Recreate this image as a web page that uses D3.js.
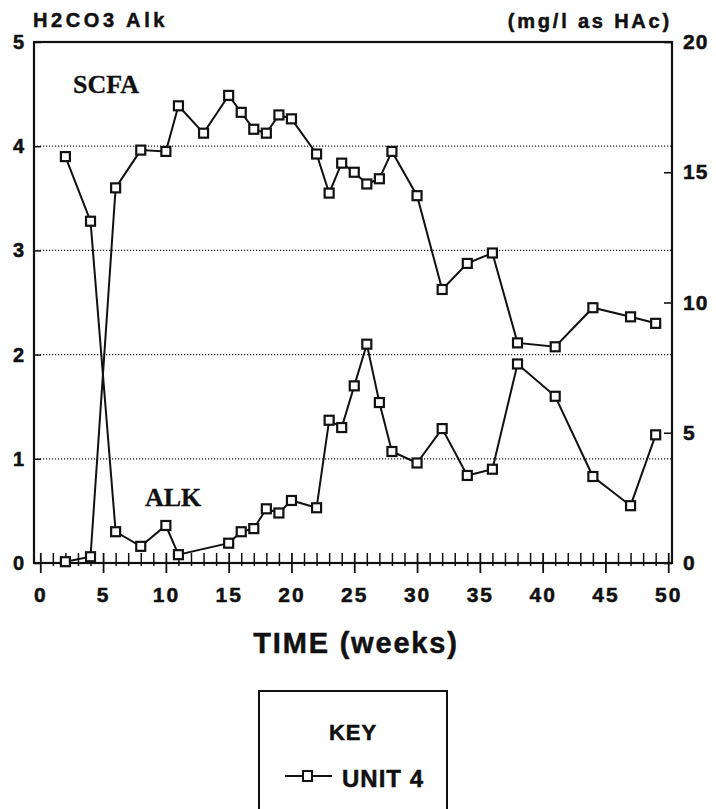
<!DOCTYPE html>
<html>
<head>
<meta charset="utf-8">
<script src="https://cdn.jsdelivr.net/npm/d3@7"></script>
<style>
  html, body { margin: 0; padding: 0; background: #fff; }
  svg { display: block; }
  text { font-family: "Liberation Sans", Arial, sans-serif; font-weight: bold; fill: #111; stroke: #111; stroke-width: 0.5px; }
  .serif { font-family: "Liberation Serif", "Times New Roman", serif; stroke-width: 0.3px; }
</style>
</head>
<body>
<svg id="chart" width="716" height="809"></svg>
<script>
// Weekly samples, UNIT 4
const weeksAlk = [2,4,6,8,10,11,15,16,17,18,19,20,22,23,24,25,26,27,28,30,32,34,36,38,41,44,47,49];
const alk = [3.90,3.28,0.30,0.16,0.36,0.08,0.19,0.30,0.33,0.52,0.48,0.60,0.53,1.37,1.30,1.70,2.10,1.54,1.07,0.96,1.29,0.84,0.90,1.91,1.60,0.83,0.55,1.23];

const weeksScfa = [2,4,6,8,10,11,13,15,16,17,18,19,20,22,23,24,25,26,27,28,30,32,34,36,38,41,44,47,49];
const scfa = [0.05,0.24,14.4,15.85,15.8,17.55,16.5,17.95,17.3,16.65,16.5,17.2,17.05,15.7,14.2,15.35,15.0,14.55,14.75,15.8,14.1,10.5,11.5,11.9,8.45,8.3,9.8,9.45,9.2];

const xTicks = [0,5,10,15,20,25,30,35,40,45,50];
const leftTicks = [0,1,2,3,4,5];
const rightTicks = [0,5,10,15,20];
const gridValues = [1,2,3,4];

const svg = d3.select("#chart");
const L = 34, R = 672, T = 42, B = 563;

const x = d3.scaleLinear().domain([-0.5, 50.3]).range([L, R]);
const yL = d3.scaleLinear().domain([0, 5]).range([B, T]);
const yR = d3.scaleLinear().domain([0, 20]).range([B, T]);

// dotted grid on left-axis values
svg.append("g").selectAll("line").data(gridValues).join("line")
  .attr("x1", L).attr("x2", R)
  .attr("y1", d => yL(d)).attr("y2", d => yL(d))
  .attr("stroke", "#222").attr("stroke-width", 1.2)
  .attr("stroke-dasharray", "1.2,1.8");

// frame
svg.append("rect").attr("x", L).attr("y", T).attr("width", R - L).attr("height", B - T)
  .attr("fill", "none").attr("stroke", "#111").attr("stroke-width", 2.2);

function styleLabels(g, size, spacing) {
  g.attr("font-family", null).attr("font-size", null);
  g.selectAll("text")
    .style("font-size", size + "px")
    .style("letter-spacing", spacing + "px")
    .attr("fill", "#111");
}

// left axis
const gl = svg.append("g").attr("transform", `translate(${L},0)`)
  .call(d3.axisLeft(yL).tickValues(leftTicks).tickFormat(d3.format("d")).tickSizeInner(-7).tickSizeOuter(0).tickPadding(10));
gl.select(".domain").remove();
gl.selectAll("line").attr("stroke", "#111").attr("stroke-width", 1.5);
styleLabels(gl, 20, 0);

// right axis
const gr = svg.append("g").attr("transform", `translate(${R},0)`)
  .call(d3.axisRight(yR).tickValues(rightTicks).tickFormat(d3.format("d")).tickSizeInner(-8).tickSizeOuter(0).tickPadding(11));
gr.select(".domain").remove();
gr.selectAll("line").attr("stroke", "#111").attr("stroke-width", 1.6);
styleLabels(gr, 21, 1);

// minor week ticks
const minorWeeks = d3.range(1, 50).filter(w => w % 5 !== 0);
const gm = svg.append("g").attr("transform", `translate(0,${B - 10})`)
  .call(d3.axisBottom(x).tickValues(minorWeeks).tickFormat("").tickSizeInner(13).tickSizeOuter(0));
gm.select(".domain").remove();
gm.selectAll("line").attr("stroke", "#111").attr("stroke-width", 1.5);

// major ticks with labels
const gx = svg.append("g").attr("transform", `translate(0,${B - 10})`)
  .call(d3.axisBottom(x).tickValues(xTicks).tickFormat(d3.format("d")).tickSizeInner(20).tickSizeOuter(0).tickPadding(14));
gx.select(".domain").remove();
gx.selectAll("line").attr("stroke", "#111").attr("stroke-width", 1.8);
styleLabels(gx, 21, 2);

// series lines
const lineAlk = d3.line().x((d, i) => x(weeksAlk[i])).y(d => yL(d));
const lineScfa = d3.line().x((d, i) => x(weeksScfa[i])).y(d => yR(d));

svg.append("path").datum(alk).attr("d", lineAlk)
  .attr("fill", "none").attr("stroke", "#111").attr("stroke-width", 2);
svg.append("path").datum(scfa).attr("d", lineScfa)
  .attr("fill", "none").attr("stroke", "#111").attr("stroke-width", 2);

// square markers
const S = 9;
svg.append("g").selectAll("rect").data(alk).join("rect")
  .attr("x", (d, i) => x(weeksAlk[i]) - S / 2).attr("y", d => yL(d) - S / 2)
  .attr("width", S).attr("height", S)
  .attr("fill", "#fff").attr("stroke", "#111").attr("stroke-width", 2.2);
svg.append("g").selectAll("rect").data(scfa).join("rect")
  .attr("x", (d, i) => x(weeksScfa[i]) - S / 2).attr("y", d => yR(d) - S / 2)
  .attr("width", S).attr("height", S)
  .attr("fill", "#fff").attr("stroke", "#111").attr("stroke-width", 2.2);

// axis titles
svg.append("text").attr("x", 33).attr("y", 27)
  .style("font-size", "20px").style("letter-spacing", "3.6px").text("H2CO3 Alk");
svg.append("text").attr("x", 672).attr("y", 28).attr("text-anchor", "end")
  .style("font-size", "20px").style("letter-spacing", "2.8px").text("(mg/l as HAc)");

// series labels
svg.append("text").attr("class", "serif").attr("x", 73).attr("y", 93)
  .style("font-size", "26px").text("SCFA");
svg.append("text").attr("class", "serif").attr("x", 145).attr("y", 506)
  .style("font-size", "26px").text("ALK");

// x title
svg.append("text").attr("x", 356).attr("y", 653).attr("text-anchor", "middle")
  .style("font-size", "29px").style("letter-spacing", "1.8px").text("TIME (weeks)");

// key
svg.append("rect").attr("x", 259).attr("y", 691).attr("width", 188).attr("height", 125)
  .attr("fill", "none").attr("stroke", "#111").attr("stroke-width", 2);
svg.append("text").attr("x", 353).attr("y", 740).attr("text-anchor", "middle")
  .style("font-size", "22px").style("letter-spacing", "1px").text("KEY");
svg.append("line").attr("x1", 285).attr("x2", 332).attr("y1", 776).attr("y2", 776)
  .attr("stroke", "#111").attr("stroke-width", 1.8);
svg.append("rect").attr("x", 303).attr("y", 771).attr("width", 9).attr("height", 10)
  .attr("fill", "#fff").attr("stroke", "#111").attr("stroke-width", 2);
svg.append("text").attr("x", 342).attr("y", 787)
  .style("font-size", "24px").style("letter-spacing", "1px").text("UNIT 4");
</script>
</body>
</html>
